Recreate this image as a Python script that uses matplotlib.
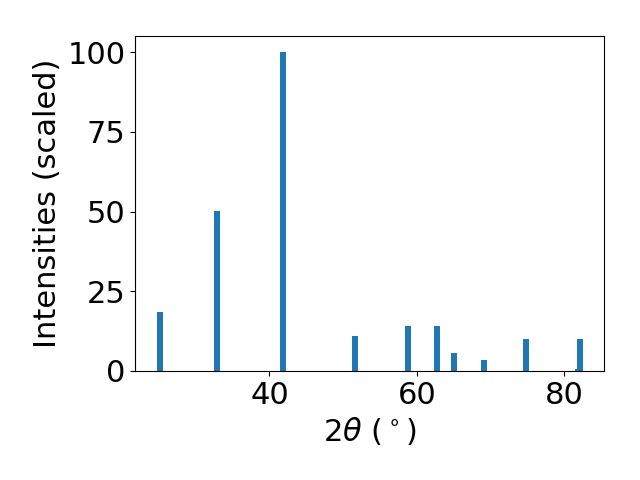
import matplotlib
matplotlib.use("Agg")
import matplotlib.pyplot as plt
from matplotlib.ticker import MultipleLocator

two_theta = [25.09, 32.84, 41.86, 51.66, 58.74, 62.68, 64.98, 69.07, 74.76, 81.86, 82.13]
intensity = [18.5, 50.3, 100.0, 11.0, 14.15, 14.15, 5.66, 3.46, 10.06, 0.6, 10.06]

fig, ax = plt.subplots(figsize=(6.4, 4.8), dpi=100)
ax.bar(two_theta, intensity, width=0.8, color="#1f77b4")
ax.set_xlabel(r"$2\theta$ ($^\circ$)", fontsize=22)
ax.set_ylabel("Intensities (scaled)", fontsize=22)
ax.tick_params(labelsize=22)
ax.yaxis.set_major_locator(MultipleLocator(25))
fig.subplots_adjust(left=135.3 / 640, right=604.3 / 640, top=1 - 36.3 / 480, bottom=1 - 370.8 / 480)
fig.savefig("out.png")
